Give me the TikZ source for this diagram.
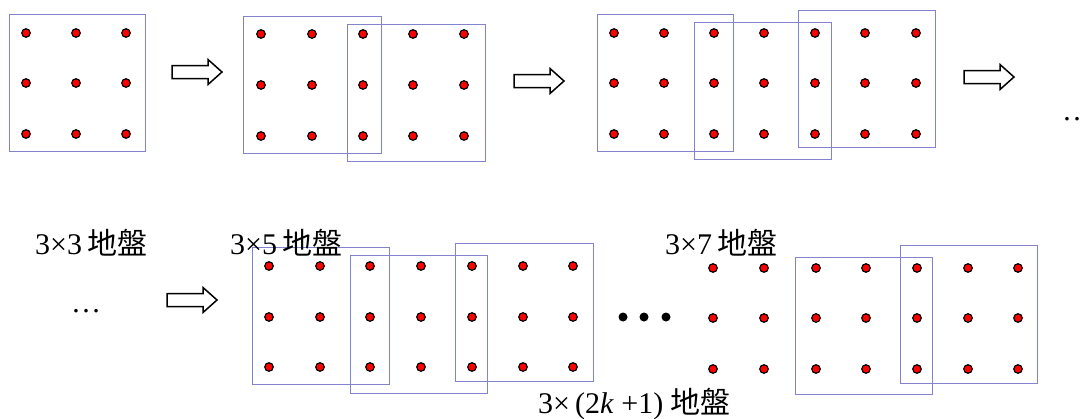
\documentclass[tikz,border=0pt]{standalone}
\usepackage{fontspec}
\setmainfont{Liberation Serif}
\newfontfamily\cjk{Noto Sans CJK TC}
\begin{document}
\begin{tikzpicture}[x=1pt,y=-1pt,
  pile/.style={circle,draw=black,fill=red,line width=1.2pt,minimum size=8.5pt,inner sep=0pt},
  bigdot/.style={circle,fill=black,minimum size=9pt,inner sep=0pt},
  groupbox/.style={draw={rgb,255:red,130;green,130;blue,205},line width=0.9pt},
  lbl/.style={anchor=base west,inner sep=0pt,font=\fontsize{30}{36}\selectfont},
  blockarrow/.pic={\draw[line width=1.5pt,line join=miter,fill=white]
     (0,-6.5) -- (36,-6.5) -- (36,-12.5) -- (50,0) -- (36,12.5) -- (36,6.5) -- (0,6.5) -- cycle;}
]
\useasboundingbox (0,0) rectangle (1085,418);
% diagram 1
\draw[groupbox] (9,14) rectangle (145,151);
\foreach \x [count=\i] in {26,76,126}
  \foreach \y [count=\j] in {33,83,134}
    \node[pile] (a-\i-\j) at (\x,\y) {};
% diagram 2
\draw[groupbox] (243,16) rectangle (381,153);
\draw[groupbox] (347,24) rectangle (485,161);
\foreach \x [count=\i] in {261,312,363,413,464}
  \foreach \y [count=\j] in {34,85,136}
    \node[pile] (b-\i-\j) at (\x,\y) {};
% diagram 3
\draw[groupbox] (597,14) rectangle (733,151);
\draw[groupbox] (694,22) rectangle (831,159);
\draw[groupbox] (798,10) rectangle (935,147);
\foreach \x [count=\i] in {614,664,714,764,815,865,916}
  \foreach \y [count=\j] in {33,83,134}
    \node[pile] (c-\i-\j) at (\x,\y) {};
% diagram 4
\draw[groupbox] (252,247) rectangle (389,384);
\draw[groupbox] (350,255) rectangle (487,393);
\draw[groupbox] (455,243) rectangle (593,381);
\foreach \x [count=\i] in {269,320,370,421,472,523,573}
  \foreach \y [count=\j] in {266,317,367}
    \node[pile] (d-\i-\j) at (\x,\y) {};
\foreach \x [count=\i] in {623,644,666}
  \node[bigdot] (m-\i) at (\x,317) {};
% diagram 5
\draw[groupbox] (795,257) rectangle (932,394);
\draw[groupbox] (900,245) rectangle (1037,383);
\foreach \x [count=\i] in {713,764,816,866,917,968,1018}
  \foreach \y [count=\j] in {268,318,369}
    \node[pile] (e-\i-\j) at (\x,\y) {};
% arrows
\pic at (172,72) {blockarrow};
\pic at (514,81) {blockarrow};
\pic at (964,77) {blockarrow};
\pic at (167,300) {blockarrow};
% ellipses
\node[lbl] (el1) at (1062,120) {…};
\node[lbl] (el2) at (71,312) {…};
% labels
\node[lbl] (l1) at (35,254) {3×3\,{\cjk 地盤}};
\node[lbl] (l2) at (230,254) {3×5\,{\cjk 地盤}};
\node[lbl] (l3) at (665,254) {3×7\,{\cjk 地盤}};
\node[lbl] (l4) at (538,413) {3×\,(2\textit{k} +1) {\cjk 地盤}};
\end{tikzpicture}
\end{document}
